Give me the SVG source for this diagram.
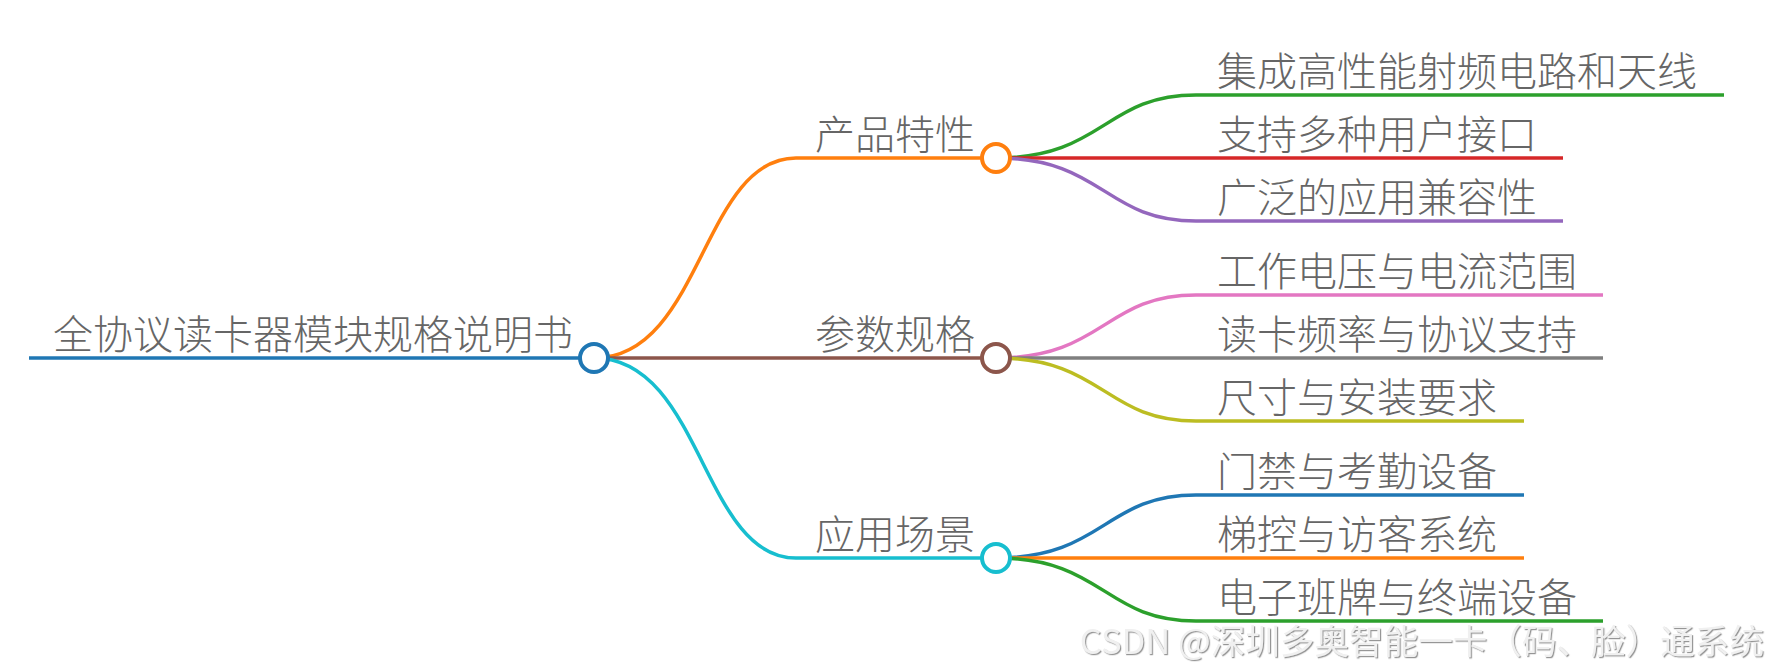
<svg xmlns="http://www.w3.org/2000/svg" width="1770" height="669" viewBox="0 0 1770 669">
<defs>
<style>
.t{font-family:"Noto Sans CJK SC","Noto Sans",sans-serif;font-size:40px;fill:#666;font-weight:300}
.c{fill:none;stroke-width:3.5;stroke-linecap:butt}
.n{fill:#fff;stroke-width:4}
.wm{font-family:"Noto Sans CJK SC","Liberation Sans",sans-serif;font-size:34.6px;fill:#f0f0f0;filter:url(#sh)}
</style>
<filter id="sh" x="-5%" y="-20%" width="110%" height="150%">
<feDropShadow dx="1.2" dy="1.2" stdDeviation="0.6" flood-color="#8a8a8a" flood-opacity="0.9"/>
</filter>
</defs>
<rect width="1770" height="669" fill="#fff"/>
<g id="connectors">
<path class="c" d="M29,358 H594" stroke="#1f77b4" stroke-width="4.5"/>
<path class="c" d="M594,358 C702,358 702,158 796,158 H996" stroke="#ff7f0e"/>
<path class="c" d="M594,358 H996" stroke="#8c564b"/>
<path class="c" d="M594,358 C702,358 702,558 796,558 H996" stroke="#17becf"/>
<path class="c" d="M996,158 C1104,158 1104,95 1196,95 H1724" stroke="#2ca02c"/>
<path class="c" d="M996,158 H1563" stroke="#d62728"/>
<path class="c" d="M996,158 C1104,158 1104,221 1196,221 H1563" stroke="#9467bd"/>
<path class="c" d="M996,358 C1104,358 1104,295 1196,295 H1603" stroke="#e377c2"/>
<path class="c" d="M996,358 H1603" stroke="#7f7f7f"/>
<path class="c" d="M996,358 C1104,358 1104,421 1196,421 H1524" stroke="#bcbd22"/>
<path class="c" d="M996,558 C1104,558 1104,495 1196,495 H1524" stroke="#1f77b4"/>
<path class="c" d="M996,558 H1524" stroke="#ff7f0e"/>
<path class="c" d="M996,558 C1104,558 1104,621 1196,621 H1603" stroke="#2ca02c"/>
</g>
<g id="root">
<text class="t" x="53" y="349">全协议读卡器模块规格说明书</text>
<circle class="n" cx="594" cy="358" r="14" stroke="#1f77b4"/>
</g>
<g id="b1">
<text class="t" x="815" y="149">产品特性</text>
<circle class="n" cx="996" cy="158" r="14" stroke="#ff7f0e"/>
</g>
<g id="b2">
<text class="t" x="815" y="349">参数规格</text>
<circle class="n" cx="996" cy="358" r="14" stroke="#8c564b"/>
</g>
<g id="b3">
<text class="t" x="815" y="549">应用场景</text>
<circle class="n" cx="996" cy="558" r="14" stroke="#17becf"/>
</g>
<g id="c1"><text class="t" x="1217" y="86">集成高性能射频电路和天线</text></g>
<g id="c2"><text class="t" x="1217" y="149">支持多种用户接口</text></g>
<g id="c3"><text class="t" x="1217" y="212">广泛的应用兼容性</text></g>
<g id="c4"><text class="t" x="1217" y="286">工作电压与电流范围</text></g>
<g id="c5"><text class="t" x="1217" y="349">读卡频率与协议支持</text></g>
<g id="c6"><text class="t" x="1217" y="412">尺寸与安装要求</text></g>
<g id="c7"><text class="t" x="1217" y="486">门禁与考勤设备</text></g>
<g id="c8"><text class="t" x="1217" y="549">梯控与访客系统</text></g>
<g id="c9"><text class="t" x="1217" y="612">电子班牌与终端设备</text></g>
<text class="wm" x="1764" y="654" text-anchor="end">CSDN @深圳多奥智能一卡（码、脸）通系统</text>
</svg>
